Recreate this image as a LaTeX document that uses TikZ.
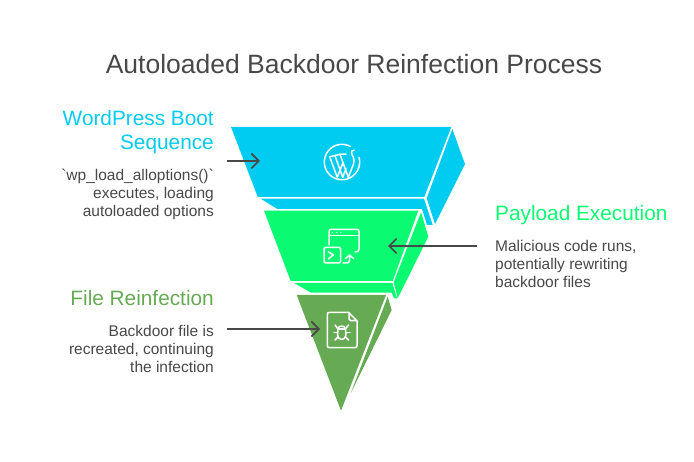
\documentclass[tikz,border=0pt]{standalone}
\usepackage{fontspec}
\setmainfont{Liberation Sans}[Ligatures=TeXOff]
\usetikzlibrary{arrows.meta}
\definecolor{bootblue}{HTML}{00CBF0}
\definecolor{runsgreen}{HTML}{0AFB72}
\definecolor{fileolive}{HTML}{66AB54}
\definecolor{inktext}{HTML}{484848}

\begin{document}
\begin{tikzpicture}[
  x=1pt, y=-1pt,
  heading/.style={font=\fontsize{20.8}{24.5}\selectfont, inner sep=0pt},
  body/.style={font=\fontsize{15.5}{18}\selectfont, text=inktext, inner sep=0pt},
  pointer/.style={draw=inktext, line width=1.7pt, -{Straight Barb[length=7.5pt, width=15pt, line width=1.7pt]}},
  icon/.style={draw=white, line width=1.5pt, line cap=round, line join=round}
]
\useasboundingbox (0,0) rectangle (694,462);

% Title
\node[font=\fontsize{26.5}{30}\selectfont, text=inktext, inner sep=0pt] (title) at (354,64) {Autoloaded Backdoor Reinfection Process};

% Top block
\fill[bootblue] (231,127) -- (451.3,127) -- (424.3,197) -- (257.7,197) -- cycle;
\fill[bootblue] (452.3,129) -- (465,164) -- (435,224) -- (426.7,198.3) -- cycle;
\fill[bootblue] (260.7,198.7) -- (424,198.7) -- (432.7,225) -- (427,225) -- (422,209) -- (277.3,209) -- cycle;

% Middle block
\fill[runsgreen] (264,210.7) -- (418.3,210.7) -- (392.7,281) -- (290.7,281) -- cycle;
\fill[runsgreen] (421,212.3) -- (428.3,236.7) -- (397.7,298.3) -- (393.7,282.3) -- cycle;
\fill[runsgreen] (294,283) -- (392.3,283) -- (397,298.3) -- (394,298.3) -- (391.7,292.7) -- (311,292.7) -- cycle;

% Bottom block
\fill[fileolive] (296.7,295) -- (386,295) -- (341,410.7) -- cycle;
\fill[fileolive] (387.7,296.7) -- (391.7,310) -- (350.7,393.3) -- cycle;

% Icon: logo in a ring
\draw[icon] (350.3,146.4) arc (-62:-375:17.7);
\draw[icon] (330,157.7) -- (337.3,177.3) -- (342.7,163.3) (335,155.7) -- (342.7,177.3) -- (346,168.5) (340,154.3) -- (348.3,177.3);
\draw[icon] (348.3,177.3) -- (353.5,164) .. controls (355.5,158) and (351.5,155.5) .. (351.5,152.5) .. controls (351.5,151) and (352.5,150) .. (354,150.3);
\draw[icon] (329.5,156.8) -- (340,154.3) -- (346,154);

% Icon: window and terminal
\draw[icon] (329,245) -- (329,231.5) .. controls (329,230) and (330,229.3) .. (331.5,229.3) -- (356.5,229.3) .. controls (358,229.3) and (359,230) .. (359,231.5) -- (359,249.5) .. controls (359,251) and (358,252) .. (355,252);
\draw[icon] (329,235.5) -- (359,235.5);
\draw[icon] (332.3,232.4) -- (332.4,232.4) (336.7,232.4) -- (336.8,232.4) (340.7,232.4) -- (340.8,232.4);
\draw[icon, rounded corners=1.5pt] (324,247.3) rectangle (340.7,263);
\draw[icon] (328.3,251.7) -- (333.3,255) -- (328.3,259);
\draw[icon] (343,263) -- (347,263) .. controls (348.7,263) and (349.5,262) .. (349.5,260) -- (349.5,255.5);
\draw[icon] (345.5,258.5) -- (349.5,255) -- (353.5,258.5);

% Icon: file with a bug
\draw[icon] (348.5,312.3) -- (329.5,312.3) .. controls (328,312.3) and (327.3,313) .. (327.3,314.5) -- (327.3,345.5) .. controls (327.3,347) and (328,347.7) .. (329.5,347.7) -- (354.8,347.7) .. controls (356.3,347.7) and (357,347) .. (357,345.5) -- (357,321) -- cycle;
\draw[icon] (349,312.8) -- (349,319) .. controls (349,320) and (349.7,320.7) .. (350.7,320.7) -- (356.5,320.7);
\draw[icon] (338,329) .. controls (338,325) and (345.4,325) .. (345.4,329) -- (346,335) .. controls (345.5,341) and (338,341) .. (337.5,335) -- cycle;
\draw[icon] (338,329) -- (345.4,329);
\draw[icon] (334,332.7) -- (337.7,332.7) (346,332.7) -- (350,332.7);
\draw[icon] (335,325) -- (338,329) (348.5,325) -- (345.4,329);
\draw[icon] (335,340) -- (338.3,336.7) (348.5,340) -- (345.2,336.7);

% Left and right texts
\node[heading, text=bootblue, align=right, anchor=north east] (bootTitle) at (214,110) {WordPress Boot\\Sequence};
\node[body, align=right, anchor=north east] (bootText) at (214,169) {`wp\_load\_alloptions()`\\executes, loading\\autoloaded options};
\node[heading, text=runsgreen, anchor=west] (runsTitle) at (495,215.5) {Payload Execution};
\node[body, align=left, anchor=north west] (runsText) at (495,240.5) {Malicious code runs,\\potentially rewriting\\backdoor files};
\node[heading, text=fileolive, anchor=east] (fileTitle) at (214,298) {File Reinfection};
\node[body, align=right, anchor=north east] (fileText) at (214,325) {Backdoor file is\\recreated, continuing\\the infection};

% Arrows
\coordinate (bootFrom) at (227,161);
\coordinate (bootTo) at (260,161);
\coordinate (runsFrom) at (477,246);
\coordinate (runsTo) at (388,246);
\coordinate (fileFrom) at (227,329);
\coordinate (fileTo) at (320,329);
\draw[pointer] (bootFrom) -- (bootTo);
\draw[pointer] (runsFrom) -- (runsTo);
\draw[pointer] (fileFrom) -- (fileTo);
\end{tikzpicture}
\end{document}
